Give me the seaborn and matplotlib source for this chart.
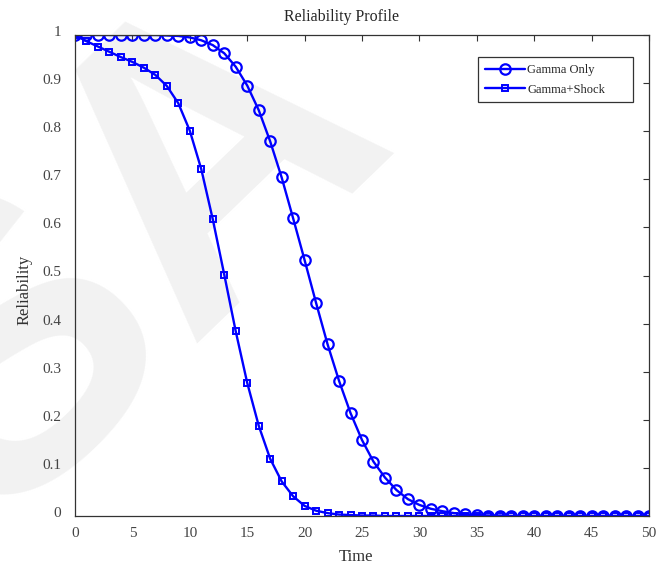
import numpy as np
import pandas as pd
import matplotlib
matplotlib.use("Agg")
import matplotlib.pyplot as plt
from matplotlib.transforms import ScaledTranslation
import seaborn as sns

# Time grid and reliability curves
time = list(range(0, 51))
gamma_only = [1.0, 1.0, 1.0, 1.0, 1.0, 1.0, 1.0, 1.0, 0.999, 0.998,
              0.995, 0.989, 0.979, 0.962, 0.934, 0.895, 0.844, 0.779, 0.704, 0.619,
              0.532, 0.443, 0.357, 0.281, 0.214, 0.158, 0.113, 0.080, 0.054, 0.035,
              0.023, 0.015, 0.010, 0.006, 0.004, 0.002, 0.001, 0.001, 0.0, 0.0,
              0.0, 0.0, 0.0, 0.0, 0.0, 0.0, 0.0, 0.0, 0.0, 0.0, 0.0]
gamma_shock = [1.0, 0.987, 0.976, 0.965, 0.954, 0.944, 0.932, 0.917, 0.894, 0.858,
               0.801, 0.721, 0.617, 0.502, 0.384, 0.277, 0.188, 0.119, 0.072, 0.041,
               0.021, 0.011, 0.006, 0.003, 0.002, 0.001, 0.001, 0.0, 0.0, 0.0,
               0.0, 0.0, 0.0, 0.0, 0.0, 0.0, 0.0, 0.0, 0.0, 0.0,
               0.0, 0.0, 0.0, 0.0, 0.0, 0.0, 0.0, 0.0, 0.0, 0.0, 0.0]
series_labels = ["Gamma Only", "Gamma+Shock"]
x_ticks = list(range(0, 51, 5))
y_ticks = [0, 0.1, 0.2, 0.3, 0.4, 0.5, 0.6, 0.7, 0.8, 0.9, 1]

sns.set_style("white")
plt.rcParams["font.family"] = ["Liberation Serif", "DejaVu Serif"]

fig = plt.figure(figsize=(6.57, 5.65), dpi=100)
ax = fig.add_axes([75 / 657, 1 - 516 / 565, (649 - 75) / 657, (516 - 35) / 565])
ax.set_facecolor("none")

# faint background lettering
fig.text(400 / 657, 1 - 137 / 565, "SA", fontsize=294, fontweight="bold",
         family="Liberation Sans", color="#f2f2f2", rotation=44,
         rotation_mode="anchor", ha="right", va="baseline", zorder=-5)

df = pd.DataFrame({"Time": time, series_labels[0]: gamma_only,
                   series_labels[1]: gamma_shock})

sns.lineplot(data=df, x="Time", y=series_labels[0], ax=ax, color="blue",
             marker="o", ms=7.5, mfc="none", mec="blue", mew=1.6, lw=1.7,
             label=series_labels[0], legend=False)
sns.lineplot(data=df, x="Time", y=series_labels[1], ax=ax, color="blue",
             marker="s", ms=4.8, mfc="none", mec="blue", mew=1.4, lw=1.7,
             label=series_labels[1], legend=False)

ax.set_xlim(0, 50)
ax.set_ylim(0, 1)
ax.set_xticks(x_ticks)
ax.set_yticks(y_ticks)
ax.set_yticklabels([f"{v:g}" for v in y_ticks])
ax.tick_params(direction="in", length=4.3, width=0.8, colors="#333333",
               labelsize=11, labelcolor="#444444", top=True, right=True,
               labeltop=False, labelright=False)
ax.tick_params(axis="x", pad=8)
ax.tick_params(axis="y", pad=10)
lift = ScaledTranslation(0, 4 / 100, fig.dpi_scale_trans)
for lbl in ax.get_yticklabels():
    lbl.set_transform(lbl.get_transform() + lift)
for s in ax.spines.values():
    s.set_color("#333333")
    s.set_linewidth(0.9)

ax.set_title("Reliability Profile", fontsize=11.5, x=0.465, pad=10)
ax.set_xlabel("Time", fontsize=12, color="#333333")
ax.set_ylabel("Reliability", fontsize=12, color="#333333")
ax.xaxis.set_label_coords(0.49, -0.069)
ax.yaxis.set_label_coords(-0.074, 0.47)

leg = ax.legend(loc="upper left", bbox_to_anchor=(0.702, 0.954, 0.270, 0.0),
                mode="expand", fontsize=9, frameon=True, fancybox=False,
                edgecolor="black", handlelength=3.2, handletextpad=0.2,
                borderpad=0.55, borderaxespad=0.0, labelspacing=0.6)
leg.get_frame().set_linewidth(0.9)

fig.savefig("out.png", dpi=100)
